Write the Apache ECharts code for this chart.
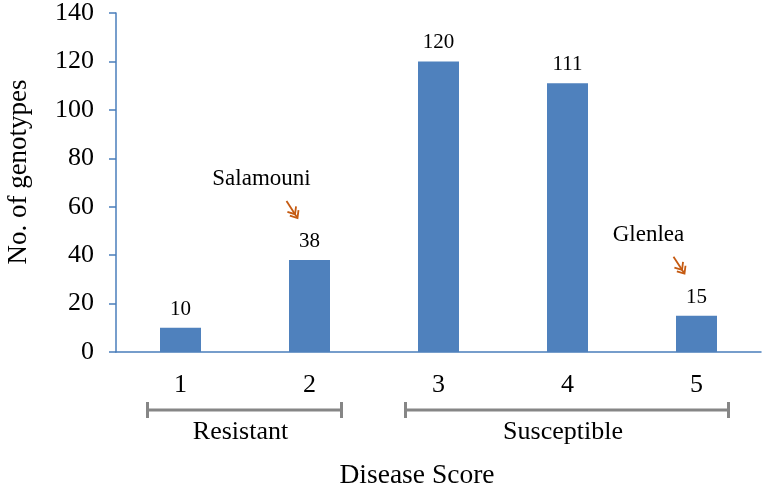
<!DOCTYPE html>
<html>
<head>
<meta charset="utf-8">
<script src="https://cdn.jsdelivr.net/npm/echarts@6/dist/echarts.min.js"></script>
<style>html,body{margin:0;padding:0;background:#fff}#c{width:763px;height:490px}</style>
</head>
<body>
<div id="c"></div>
<script>
var categories = ['1', '2', '3', '4', '5'];
var counts = [10, 38, 120, 111, 15];
var yTicks = {min: 0, max: 140, interval: 20};
var groups = [
  {name: 'Resistant', from: 0, to: 1},
  {name: 'Susceptible', from: 2, to: 4}
];
var notes = [
  {name: 'Salamouni', index: 1},
  {name: 'Glenlea', index: 4}
];
var xTitle = 'Disease Score';
var yTitle = 'No. of genotypes';

var FONT = '"Liberation Serif", "Times New Roman", serif';
var AXIS = '#4a7ebb';
var chart = echarts.init(document.getElementById('c'));
chart.setOption({
  animation: false,
  grid: {left: 116, right: 2, top: 11, bottom: 138},
  xAxis: {
    type: 'category', data: categories,
    axisLine: {lineStyle: {color: AXIS, width: 1.5}},
    axisTick: {show: false},
    axisLabel: {color: '#000', fontSize: 26, fontFamily: FONT, margin: 20}
  },
  yAxis: {
    type: 'value', min: yTicks.min, max: yTicks.max, interval: yTicks.interval,
    axisLine: {show: true, lineStyle: {color: AXIS, width: 1.5}},
    axisTick: {show: true, length: 7, lineStyle: {color: AXIS, width: 1.5}},
    splitLine: {show: false},
    axisLabel: {color: '#000', fontSize: 26, fontFamily: FONT, margin: 22}
  },
  series: [{
    type: 'bar', data: counts, barWidth: 41,
    itemStyle: {color: '#4f81bd'},
    label: {show: true, position: 'top', distance: 8, color: '#000', fontSize: 21, fontFamily: FONT}
  }]
});

function arrow(tx, ty, color) {
  // double chevron arrow pointing down-right, tip at (tx,ty)
  var dx = 11, dy = 17, L = Math.sqrt(dx*dx+dy*dy);
  var ux = dx / L, uy = dy / L;
  var els = [];
  els.push({type: 'line', shape: {x1: tx - ux*L, y1: ty - uy*L, x2: tx - ux*1, y2: ty - uy*1},
    style: {stroke: color, lineWidth: 1.8}});
  [0, 4.5].forEach(function (back) {
    var px = tx - ux*back, py = ty - uy*back;
    var a = Math.PI / 4.5, len = 8;
    var bx = -ux, by = -uy;
    var p1 = [px + len*(bx*Math.cos(a) - by*Math.sin(a)), py + len*(bx*Math.sin(a) + by*Math.cos(a))];
    var p2 = [px + len*(bx*Math.cos(-a) - by*Math.sin(-a)), py + len*(bx*Math.sin(-a) + by*Math.cos(-a))];
    els.push({type: 'polyline', shape: {points: [p1, [px, py], p2]},
      style: {stroke: color, lineWidth: 1.8, fill: null}});
  });
  return els;
}

var g = [];
groups.forEach(function (gr) {
  var x1 = chart.convertToPixel({xAxisIndex: 0}, categories[gr.from]) - 33;
  var x2 = chart.convertToPixel({xAxisIndex: 0}, categories[gr.to]) + 32;
  var y = 410;
  g.push({type: 'line', shape: {x1: x1, y1: y, x2: x2, y2: y}, style: {stroke: '#868686', lineWidth: 3}});
  g.push({type: 'line', shape: {x1: x1, y1: y - 8, x2: x1, y2: y + 8}, style: {stroke: '#868686', lineWidth: 3}});
  g.push({type: 'line', shape: {x1: x2, y1: y - 8, x2: x2, y2: y + 8}, style: {stroke: '#868686', lineWidth: 3}});
  g.push({type: 'text', x: (x1 + x2) / 2 - 4, y: 432,
    style: {text: gr.name, font: '26px ' + FONT, fill: '#000', textAlign: 'center', textVerticalAlign: 'middle'}});
});
notes.forEach(function (n) {
  var p = chart.convertToPixel({seriesIndex: 0}, [n.index, counts[n.index]]);
  g.push({type: 'text', x: p[0] - 48, y: p[1] - 81,
    style: {text: n.name, font: '23px ' + FONT, fill: '#000', textAlign: 'center', textVerticalAlign: 'middle'}});
  g = g.concat(arrow(p[0] - 12, p[1] - 42, '#c55a11'));
});
g.push({type: 'text', x: 417, y: 476,
  style: {text: xTitle, font: '27.5px ' + FONT, fill: '#000', textAlign: 'center', textVerticalAlign: 'middle'}});
g.push({type: 'text', x: 19, y: 172, rotation: Math.PI / 2,
  style: {text: yTitle, font: '27px ' + FONT, fill: '#000', textAlign: 'center', textVerticalAlign: 'middle'}});
chart.setOption({graphic: g});
</script>
</body>
</html>
